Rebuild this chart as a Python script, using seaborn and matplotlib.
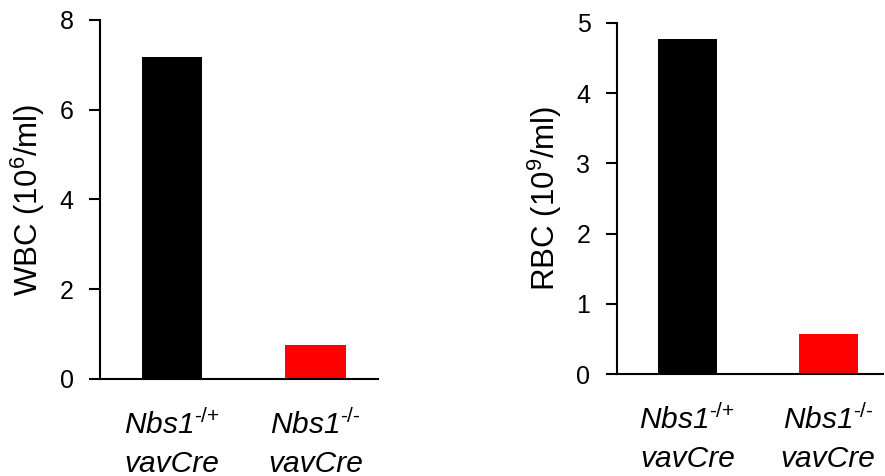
import matplotlib
matplotlib.use("Agg")
import matplotlib.pyplot as plt
import seaborn as sns

sns.set_style("white")
plt.rcParams['font.family'] = ['Liberation Sans', 'DejaVu Sans']
plt.rcParams['mathtext.fontset'] = 'custom'
plt.rcParams['mathtext.rm'] = 'Liberation Sans'
plt.rcParams['mathtext.it'] = 'Liberation Sans:italic'
plt.rcParams['text.color'] = 'black'
plt.rcParams['axes.labelcolor'] = 'black'
plt.rcParams['xtick.color'] = 'black'
plt.rcParams['ytick.color'] = 'black'

genotypes = ['Nbs1$^{\\text{-/+}}$\nvavCre', 'Nbs1$^{\\text{-/-}}$\nvavCre']
wbc_values = [7.18, 0.76]
rbc_values = [4.77, 0.57]
bar_colors = ['#000000', '#ff0000']
wbc_ticks = [0, 2, 4, 6, 8]
rbc_ticks = [0, 1, 2, 3, 4, 5]

fig = plt.figure(figsize=(8.85, 4.76), dpi=100)
ax1 = fig.add_axes([0.113, 0.204, 0.314, 0.754])
ax2 = fig.add_axes([0.697, 0.214, 0.301, 0.738])

panels = [
    (ax1, wbc_values, wbc_ticks, 'WBC (10$^{6}$/ml)', (-0.5, 1.435)),
    (ax2, rbc_values, rbc_ticks, 'RBC (10$^{9}$/ml)', (-0.5, 1.39)),
]

for ax, vals, ticks, ylab, xl in panels:
    sns.barplot(x=genotypes, y=vals, hue=genotypes, palette=bar_colors,
                width=0.42, ax=ax, legend=False, saturation=1, linewidth=0)
    ax.set_xlim(*xl)
    ax.set_ylim(ticks[0], ticks[-1])
    ax.set_yticks(ticks)
    ax.set_xticks([0, 1])
    ax.set_xticklabels(genotypes, fontstyle='italic', fontsize=21.5,
                       linespacing=1.45, color='black')
    ax.set_xticks([xl[0]], minor=True)
    ax.tick_params(axis='x', which='major', length=0, pad=22)
    ax.tick_params(axis='x', which='minor', length=7, width=1.5, direction='out', color='black')
    ax.tick_params(axis='y', length=8, width=1.5, direction='out', labelsize=18, pad=11,
                   color='black', labelcolor='black', left=True)
    ax.set_ylabel(ylab, fontsize=22.5, labelpad=9, color='black')
    ax.set_xlabel('')
    for s in ['top', 'right']:
        ax.spines[s].set_visible(False)
    for s in ['left', 'bottom']:
        ax.spines[s].set_linewidth(1.5)
        ax.spines[s].set_color('black')
    ax.spines['left'].set_bounds(ticks[0], ticks[-1])

fig.savefig('out.png', dpi=100)
